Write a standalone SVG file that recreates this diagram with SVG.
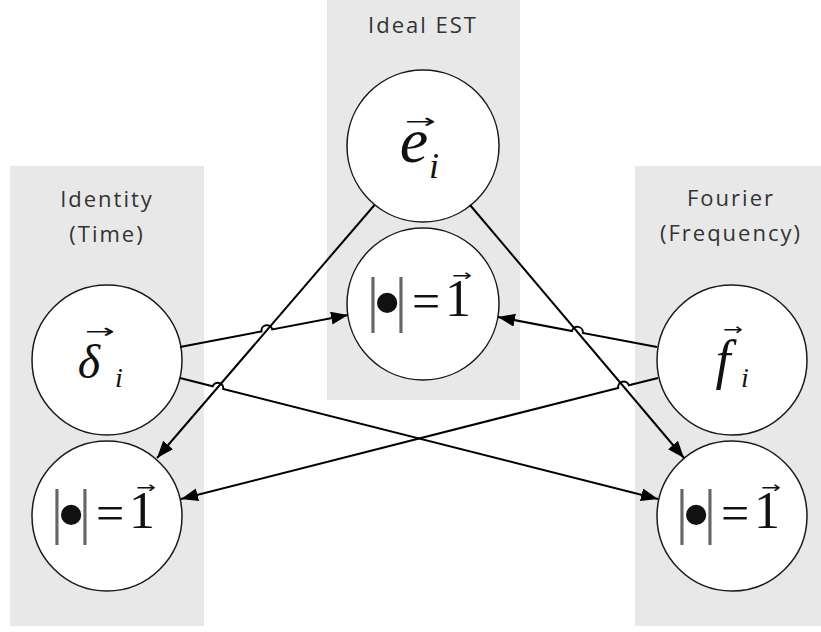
<svg xmlns="http://www.w3.org/2000/svg" width="821" height="632" viewBox="0 0 821 632">
<style>
.panel{fill:#e8e8e8}
.lbl{font-family:"Open Sans",sans-serif;font-size:22px;fill:#333;text-anchor:middle;letter-spacing:2px}
.node{fill:#fff;stroke:#1a1a1a;stroke-width:1.5}
.m{font-family:"Liberation Serif",serif;fill:#111;text-anchor:middle}
.mi{font-style:italic}
.vec{font-family:"DejaVu Sans",sans-serif;text-anchor:start;font-style:normal}
.bar{fill:#666;font-size:62px}
.edge{fill:none;stroke:#000;stroke-width:2}
</style>
<defs>
<marker id="ah" markerUnits="userSpaceOnUse" markerWidth="18" markerHeight="14" refX="17" refY="6.5" orient="auto"><path d="M0,0 L17,6.5 L0,13 z" fill="#000"/></marker>
</defs>

<g id="panel-identity"><rect class="panel" x="10" y="166" width="194" height="460"/><text class="lbl" x="107" y="207">Identity</text><text class="lbl" x="107" y="242">(Time)</text></g>
<g id="panel-ideal"><rect class="panel" x="327" y="0" width="193" height="400"/><text class="lbl" x="423" y="33">Ideal EST</text></g>
<g id="panel-fourier"><rect class="panel" x="635" y="166" width="194" height="460"/><text class="lbl" x="731" y="206">Fourier</text><text class="lbl" x="731" y="241">(Frequency)</text></g>

<g id="node-e" transform="translate(423,146)">
<circle class="node" r="76"/>
<text class="m mi"><tspan x="-9" y="16" font-size="64">e</tspan><tspan x="11" y="32" font-size="36">i</tspan><tspan class="vec" x="-18" y="-18" font-size="20" textLength="31" lengthAdjust="spacingAndGlyphs">→</tspan></text>
</g>

<g id="node-norm-mid" transform="translate(423,304)">
<circle class="node" r="76"/>
<text class="m" font-size="50"><tspan class="bar" x="-50" y="16">|</tspan><tspan x="-36" y="27" font-size="85">•</tspan><tspan class="bar" x="-22" y="16">|</tspan><tspan x="3" y="14">=</tspan><tspan x="35" y="12" font-size="52">1</tspan><tspan class="vec" x="29" y="-23" font-size="16" textLength="20" lengthAdjust="spacingAndGlyphs">→</tspan></text>
</g>

<g id="node-delta" transform="translate(107,360)">
<circle class="node" r="75"/>
<text class="m mi"><tspan x="-18" y="18" font-size="48">δ</tspan><tspan x="12" y="27" font-size="28">i</tspan><tspan class="vec" x="-22" y="-22" font-size="20" textLength="30" lengthAdjust="spacingAndGlyphs">→</tspan></text>
</g>

<g id="node-norm-left" transform="translate(107,516)">
<circle class="node" r="75"/>
<text class="m" font-size="50"><tspan class="bar" x="-50" y="16">|</tspan><tspan x="-36" y="27" font-size="85">•</tspan><tspan class="bar" x="-22" y="16">|</tspan><tspan x="3" y="14">=</tspan><tspan x="35" y="12" font-size="52">1</tspan><tspan class="vec" x="29" y="-23" font-size="16" textLength="20" lengthAdjust="spacingAndGlyphs">→</tspan></text>
</g>

<g id="node-f" transform="translate(732,360)">
<circle class="node" r="75"/>
<text class="m mi"><tspan x="-9" y="18" font-size="54">f</tspan><tspan x="13" y="27" font-size="28">i</tspan><tspan class="vec" x="-9" y="-25" font-size="16" textLength="20" lengthAdjust="spacingAndGlyphs">→</tspan></text>
</g>

<g id="node-norm-right" transform="translate(732,516)">
<circle class="node" r="75"/>
<text class="m" font-size="50"><tspan class="bar" x="-50" y="16">|</tspan><tspan x="-36" y="27" font-size="85">•</tspan><tspan class="bar" x="-22" y="16">|</tspan><tspan x="3" y="14">=</tspan><tspan x="35" y="12" font-size="52">1</tspan><tspan class="vec" x="29" y="-23" font-size="16" textLength="20" lengthAdjust="spacingAndGlyphs">→</tspan></text>
</g>

<g id="connectors">
<path class="edge" marker-end="url(#ah)" d="M374.5,205 L157,458"/>
<path class="edge" marker-end="url(#ah)" d="M470,205 L684,458"/>
<path class="edge" marker-end="url(#ah)" d="M180,347 L261.5,331.4 A5.5,5.5 0 0 1 272.3,329.4 L348,315"/>
<path class="edge" marker-end="url(#ah)" d="M180,378 L212.6,386.3 A5.5,5.5 0 0 1 223.2,388.9 L658,499"/>
<path class="edge" marker-end="url(#ah)" d="M657,347 L582.8,333 A5.5,5.5 0 0 0 572,331 L498,317"/>
<path class="edge" marker-end="url(#ah)" d="M658,378 L628.8,385.2 A5.5,5.5 0 0 0 618.2,387.9 L181,499"/>
</g>
</svg>
